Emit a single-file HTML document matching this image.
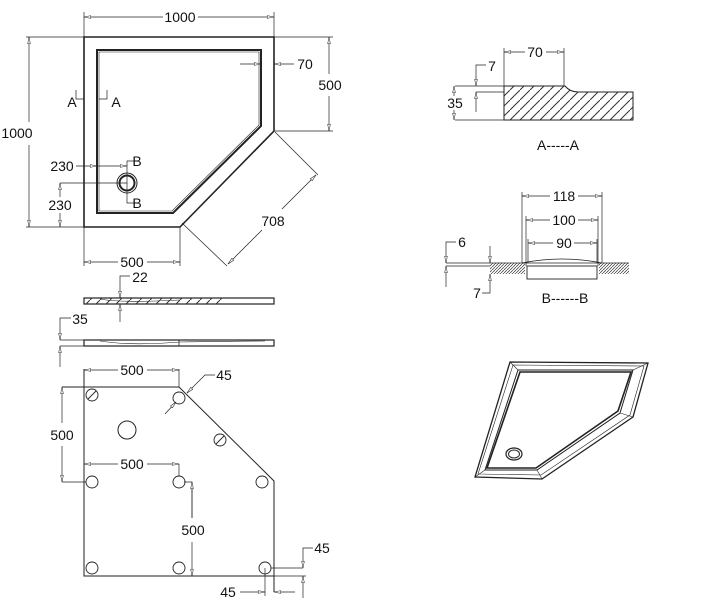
<!DOCTYPE html>
<html><head><meta charset="utf-8"><style>
html,body{margin:0;padding:0;background:#fff;}
svg{display:block;}
text{font-family:"Liberation Sans",Arial,sans-serif;font-size:14px;fill:#111;}
</style></head><body>
<svg width="709" height="602" viewBox="0 0 709 602" xmlns="http://www.w3.org/2000/svg">
<defs>
<marker id="a" viewBox="0 0 10 6" refX="10" refY="3" markerWidth="10" markerHeight="4" orient="auto-start-reverse" markerUnits="userSpaceOnUse"><path d="M0,1 L10,3 L0,5 Z" fill="#fff" stroke="#222" stroke-width="0.8"/></marker>
<pattern id="h" width="10" height="10" patternUnits="userSpaceOnUse"><path d="M-2,12 L12,-2" stroke="#333" stroke-width="1"/></pattern>
<pattern id="h2" width="3" height="3" patternUnits="userSpaceOnUse"><path d="M-1,4 L4,-1" stroke="#333" stroke-width="0.7"/></pattern>
</defs>
<g fill="none" stroke="#222" stroke-width="1">
<!-- top view -->
<polygon points="84,37 274,37 274,131 180,227 84,227" stroke-width="1.6"/>
<polygon points="97,50 261,50 261,126 173,213 97,213" stroke-width="2"/>
<polygon points="99,52 259,52 259,125 172,211 99,211" stroke-width="0.6"/>
<circle cx="127" cy="183" r="10" stroke-width="1"/>
<circle cx="127" cy="183" r="7.5" stroke-width="2"/>
<!-- 1000 top -->
<line x1="84" y1="12" x2="84" y2="37" stroke-width="0.7"/><line x1="274" y1="12" x2="274" y2="37" stroke-width="0.7"/>
<line x1="84" y1="17" x2="163" y2="17" marker-start="url(#a)" stroke-width="0.7"/>
<line x1="198" y1="17" x2="274" y2="17" marker-end="url(#a)" stroke-width="0.7"/>
<!-- 1000 left -->
<line x1="26" y1="37" x2="84" y2="37" stroke-width="0.7"/><line x1="26" y1="227" x2="84" y2="227" stroke-width="0.7"/>
<line x1="29" y1="37" x2="29" y2="122" marker-start="url(#a)" stroke-width="0.7"/>
<line x1="29" y1="145" x2="29" y2="227" marker-end="url(#a)" stroke-width="0.7"/>
<!-- 500 right -->
<line x1="274" y1="37" x2="333" y2="37" stroke-width="0.7"/><line x1="274" y1="131" x2="333" y2="131" stroke-width="0.7"/>
<line x1="329" y1="37" x2="329" y2="74" marker-start="url(#a)" stroke-width="0.7"/>
<line x1="329" y1="96" x2="329" y2="131" marker-end="url(#a)" stroke-width="0.7"/>
<!-- 70 -->
<line x1="240" y1="64" x2="261" y2="64" marker-end="url(#a)" stroke-width="0.7"/>
<line x1="294" y1="64" x2="274" y2="64" marker-end="url(#a)" stroke-width="0.7"/>
<!-- 708 -->
<line x1="275" y1="132" x2="318" y2="175" stroke-width="0.7"/><line x1="182" y1="223" x2="227" y2="266" stroke-width="0.7"/>
<line x1="316" y1="175" x2="282" y2="209" marker-start="url(#a)" stroke-width="0.7"/>
<line x1="262" y1="230" x2="228" y2="264" marker-end="url(#a)" stroke-width="0.7"/>
<!-- 500 bottom -->
<line x1="84" y1="227" x2="84" y2="266" stroke-width="0.7"/><line x1="180" y1="227" x2="180" y2="266" stroke-width="0.7"/>
<line x1="84" y1="262" x2="118" y2="262" marker-start="url(#a)" stroke-width="0.7"/>
<line x1="147" y1="262" x2="180" y2="262" marker-end="url(#a)" stroke-width="0.7"/>
<!-- 230 -->
<line x1="76" y1="166" x2="97" y2="166" marker-end="url(#a)" stroke-width="0.7"/>
<line x1="97" y1="166" x2="127" y2="166" marker-end="url(#a)" stroke-width="0.7"/>
<polyline points="135,161 127,161 127,183 60,183" stroke-width="0.7"/>
<polyline points="127,183 127,203 135,203" stroke-width="0.7"/>
<line x1="60" y1="183" x2="60" y2="197" marker-start="url(#a)" stroke-width="0.7"/>
<line x1="60" y1="213" x2="60" y2="227" marker-end="url(#a)" stroke-width="0.7"/>
<!-- A markers -->
<polyline points="76,90 76,99 84,99" stroke-width="0.7"/>
<polyline points="107,90 107,99 99,99" stroke-width="0.7"/>
<!-- side views -->
<rect x="84" y="298" width="190" height="6" stroke-width="1.2"/>
<rect x="84" y="298" width="140" height="6" fill="url(#h)" stroke="none"/>
<path d="M100,299 Q120,303 180,300" stroke-width="0.6"/>
<polyline points="130,276 120,276 120,298" marker-end="url(#a)" stroke-width="0.7"/>
<line x1="120" y1="322" x2="120" y2="304" marker-end="url(#a)" stroke-width="0.7"/>
<rect x="84" y="340" width="190" height="6" stroke-width="1.2"/>
<line x1="179" y1="340" x2="179" y2="346" stroke-width="0.8"/>
<path d="M100,341 Q130,346 180,342 Q230,341 265,341" stroke-width="0.6"/>
<polyline points="71,318 60,318 60,340" marker-end="url(#a)" stroke-width="0.7"/>
<line x1="60" y1="367" x2="60" y2="346" marker-end="url(#a)" stroke-width="0.7"/>
<line x1="60" y1="340" x2="84" y2="340" stroke-width="0.7"/><line x1="60" y1="346" x2="84" y2="346" stroke-width="0.7"/>
<!-- bottom plan -->
<polyline points="84,369 84,576 274,576" stroke-width="1"/>
<polyline points="62,387 179,387 274,481 274,592" stroke-width="1"/>
<line x1="179" y1="369" x2="179" y2="387" stroke-width="0.7"/>
<line x1="84" y1="370" x2="118" y2="370" marker-start="url(#a)" stroke-width="0.7"/>
<line x1="147" y1="370" x2="179" y2="370" marker-end="url(#a)" stroke-width="0.7"/>
<line x1="62" y1="387" x2="62" y2="423" marker-start="url(#a)" stroke-width="0.7"/>
<line x1="62" y1="446" x2="62" y2="482" marker-end="url(#a)" stroke-width="0.7"/>
<line x1="62" y1="482" x2="86" y2="482" stroke-width="0.7"/>
<line x1="84" y1="464" x2="118" y2="464" marker-start="url(#a)" stroke-width="0.7"/>
<line x1="147" y1="464" x2="179" y2="464" marker-end="url(#a)" stroke-width="0.7"/>
<polyline points="179,464 179,476" stroke-width="0.7"/>
<polyline points="184,482 192,482 192,518" stroke-width="0.7"/>
<line x1="192" y1="482" x2="192" y2="518" marker-start="url(#a)" stroke-width="0.7"/>
<line x1="192" y1="542" x2="192" y2="576" marker-end="url(#a)" stroke-width="0.7"/>
<polyline points="215,375 205,375 187,393" marker-end="url(#a)" stroke-width="0.7"/>
<line x1="165" y1="414" x2="176" y2="402" marker-end="url(#a)" stroke-width="0.7"/>
<polyline points="313,548 303,548 303,568" marker-end="url(#a)" stroke-width="0.7"/>
<line x1="271" y1="568" x2="303" y2="568" stroke-width="0.7"/>
<line x1="303" y1="598" x2="303" y2="576" marker-end="url(#a)" stroke-width="0.7"/>
<line x1="274" y1="576" x2="306" y2="576" stroke-width="0.7"/>
<line x1="240" y1="592" x2="265" y2="592" marker-end="url(#a)" stroke-width="0.7"/>
<line x1="265" y1="568" x2="265" y2="596" stroke-width="0.7"/>
<line x1="295" y1="592" x2="274" y2="592" marker-end="url(#a)" stroke-width="0.7"/>
<circle cx="127" cy="430" r="9"/>
<g stroke-width="0.9">
<circle cx="92" cy="395" r="6"/><line x1="88" y1="399" x2="96" y2="391"/>
<circle cx="179" cy="398" r="6"/>
<circle cx="220" cy="440" r="6"/><line x1="216" y1="444" x2="224" y2="436"/>
<circle cx="92" cy="482" r="6"/><circle cx="179" cy="482" r="6"/><circle cx="262" cy="482" r="6"/>
<circle cx="92" cy="568" r="6"/><circle cx="179" cy="568" r="6"/><circle cx="265" cy="568" r="6"/>
</g>
<!-- A-A section -->
<path d="M504,86 L565,86 Q570,92 578,92 L633,92 L633,120 L504,120 Z" fill="url(#h)" stroke-width="1"/>
<line x1="504" y1="86" x2="504" y2="120" stroke-width="1"/>
<line x1="455" y1="86" x2="504" y2="86" stroke-width="0.7"/><line x1="455" y1="120" x2="504" y2="120" stroke-width="0.7"/>
<line x1="504" y1="48" x2="504" y2="86" stroke-width="0.7"/><line x1="564" y1="48" x2="564" y2="86" stroke-width="0.7"/>
<line x1="504" y1="52" x2="525" y2="52" marker-start="url(#a)" stroke-width="0.7"/>
<line x1="546" y1="52" x2="564" y2="52" marker-end="url(#a)" stroke-width="0.7"/>
<line x1="454" y1="86" x2="454" y2="96" marker-start="url(#a)" stroke-width="0.7"/>
<line x1="454" y1="110" x2="454" y2="120" marker-end="url(#a)" stroke-width="0.7"/>
<polyline points="486,65 476,65 476,86" marker-end="url(#a)" stroke-width="0.7"/>
<line x1="476" y1="112" x2="476" y2="92" marker-end="url(#a)" stroke-width="0.7"/>
<line x1="476" y1="92" x2="504" y2="92" stroke-width="0.7"/>
<!-- B-B section -->
<rect x="490" y="263" width="35" height="11" fill="url(#h2)" stroke="none"/>
<rect x="599" y="263" width="30" height="11" fill="url(#h2)" stroke="none"/>
<line x1="446" y1="263" x2="525" y2="263" stroke-width="0.8"/>
<line x1="598" y1="263" x2="629" y2="263" stroke-width="0.8"/>
<rect x="527" y="266" width="70" height="13" stroke-width="0.9"/>
<path d="M522,263 Q562,255 602,263" stroke-width="0.8"/>
<line x1="522" y1="263" x2="602" y2="263" stroke-width="0.8"/>
<line x1="522" y1="192" x2="522" y2="263" stroke-width="0.7"/><line x1="602" y1="192" x2="602" y2="263" stroke-width="0.7"/>
<line x1="526" y1="216" x2="526" y2="266" stroke-width="0.7"/><line x1="598" y1="216" x2="598" y2="266" stroke-width="0.7"/>
<line x1="528" y1="239" x2="528" y2="263" stroke-width="0.7"/><line x1="597" y1="239" x2="597" y2="263" stroke-width="0.7"/>
<line x1="522" y1="196" x2="550" y2="196" marker-start="url(#a)" stroke-width="0.7"/><line x1="578" y1="196" x2="602" y2="196" marker-end="url(#a)" stroke-width="0.7"/>
<line x1="526" y1="220" x2="550" y2="220" marker-start="url(#a)" stroke-width="0.7"/><line x1="578" y1="220" x2="598" y2="220" marker-end="url(#a)" stroke-width="0.7"/>
<line x1="528" y1="243" x2="553" y2="243" marker-start="url(#a)" stroke-width="0.7"/><line x1="574" y1="243" x2="597" y2="243" marker-end="url(#a)" stroke-width="0.7"/>
<polyline points="456,242 446,242 446,263" marker-end="url(#a)" stroke-width="0.7"/>
<line x1="446" y1="287" x2="446" y2="266" marker-end="url(#a)" stroke-width="0.7"/>
<line x1="446" y1="266" x2="490" y2="266" stroke-width="0.7"/>
<line x1="490" y1="246" x2="490" y2="263" marker-end="url(#a)" stroke-width="0.7"/>
<polyline points="482,293 490,293 490,274" marker-end="url(#a)" stroke-width="0.7"/>
<!-- 3D -->
<polygon points="510,362 648,363 633,417 542,479 475,477" stroke-width="1.3"/>
<polygon points="513,365 644,366 630,415 541,475 478,474" stroke-width="0.6"/>
<polygon points="518,370 633,370 620,413 537,470 485,470" stroke-width="1"/>
<polygon points="520,372 631,372 618,411 536,468 487,468" stroke-width="1.6"/>
<line x1="510" y1="362" x2="518" y2="370" stroke-width="0.6"/><line x1="648" y1="363" x2="633" y2="370" stroke-width="0.6"/>
<line x1="633" y1="417" x2="620" y2="413" stroke-width="0.6"/><line x1="542" y1="479" x2="537" y2="470" stroke-width="0.6"/>
<line x1="475" y1="477" x2="485" y2="470" stroke-width="0.6"/>
<ellipse cx="514" cy="454" rx="8" ry="6" stroke-width="1.2"/>
<ellipse cx="514" cy="454" rx="5.5" ry="4"/>
</g>
<g>
<text x="180" y="22" text-anchor="middle">1000</text>
<text x="17" y="138" text-anchor="middle">1000</text>
<text x="330" y="90" text-anchor="middle">500</text>
<text x="305" y="69" text-anchor="middle">70</text>
<text x="273" y="226" text-anchor="middle">708</text>
<text x="132" y="267" text-anchor="middle">500</text>
<text x="62" y="171" text-anchor="middle">230</text>
<text x="60" y="210" text-anchor="middle">230</text>
<text x="72" y="107" text-anchor="middle">A</text>
<text x="116" y="107" text-anchor="middle">A</text>
<text x="137" y="166" text-anchor="middle">B</text>
<text x="137" y="208" text-anchor="middle">B</text>
<text x="140" y="282" text-anchor="middle">22</text>
<text x="80" y="324" text-anchor="middle">35</text>
<text x="132" y="375" text-anchor="middle">500</text>
<text x="224" y="380" text-anchor="middle">45</text>
<text x="62" y="440" text-anchor="middle">500</text>
<text x="132" y="469" text-anchor="middle">500</text>
<text x="193" y="535" text-anchor="middle">500</text>
<text x="322" y="553" text-anchor="middle">45</text>
<text x="228" y="597" text-anchor="middle">45</text>
<text x="535" y="57" text-anchor="middle">70</text>
<text x="492" y="71" text-anchor="middle">7</text>
<text x="455" y="108" text-anchor="middle">35</text>
<text x="558" y="150" text-anchor="middle">A-----A</text>
<text x="564" y="201" text-anchor="middle">118</text>
<text x="564" y="225" text-anchor="middle">100</text>
<text x="564" y="248" text-anchor="middle">90</text>
<text x="462" y="247" text-anchor="middle">6</text>
<text x="477" y="298" text-anchor="middle">7</text>
<text x="565" y="303" text-anchor="middle">B------B</text>
</g>
</svg>
</body></html>
